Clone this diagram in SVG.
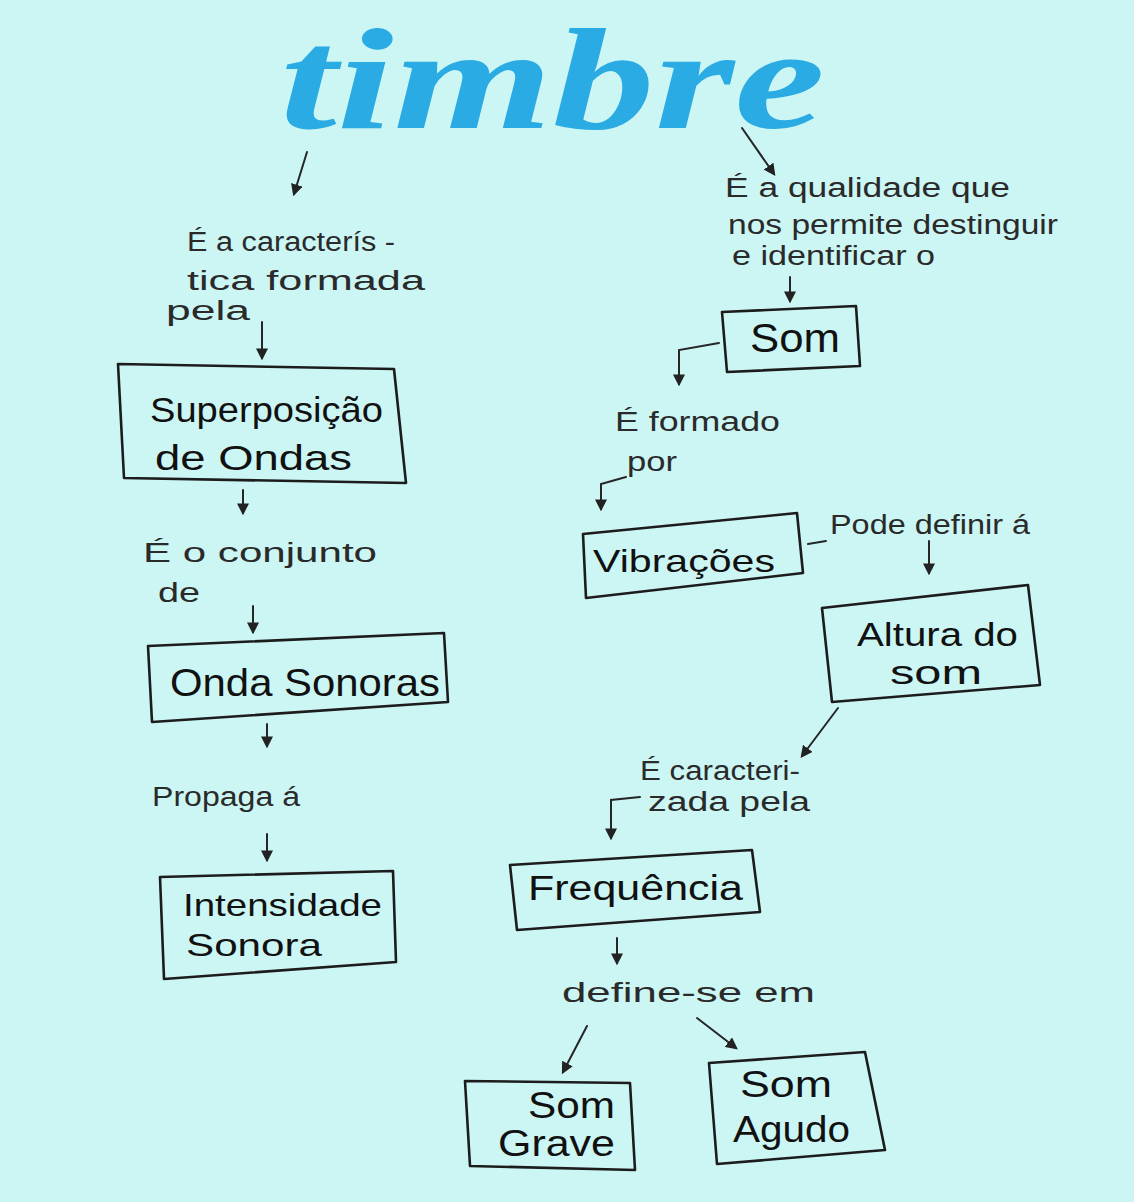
<svg xmlns="http://www.w3.org/2000/svg" width="1134" height="1202" viewBox="0 0 1134 1202">
<defs>
<marker id="ah" viewBox="0 0 10 10" refX="8" refY="5" markerWidth="6" markerHeight="6" orient="auto" markerUnits="strokeWidth">
<path d="M0,0 L10,5 L0,10 Z" fill="#222"/>
</marker>
<style>
.bg{fill:#ccf6f4}
.box{fill:none;stroke:#1c1c1c;stroke-width:2.6;stroke-linejoin:round}
.c{fill:none;stroke:#262626;stroke-width:2;stroke-linecap:round;marker-end:url(#ah)}
.cl{fill:none;stroke:#262626;stroke-width:2;stroke-linecap:round}
.lbl{font-family:"Liberation Sans",Arial,sans-serif;font-size:27px;fill:#2a2a2a}
.nt{font-family:"Liberation Sans",Arial,sans-serif;fill:#111}
.title{font-family:"Liberation Serif","DejaVu Serif",serif;font-style:italic;font-weight:bold;font-size:145px;fill:#2aabe4}
</style>
</defs>
<rect class="bg" x="0" y="0" width="1134" height="1202"/>
<g id="title"><text class="title" x="280" y="128" textLength="545" lengthAdjust="spacingAndGlyphs">timbre</text></g>

<g id="connectors">
<path class="c" d="M307,152 L294,194"/>
<path class="c" d="M742,128 L774,174"/>
<path class="c" d="M262,322 L262,358"/>
<path class="c" d="M243,490 L243,513"/>
<path class="c" d="M253,606 L253,632"/>
<path class="c" d="M267,724 L267,746"/>
<path class="c" d="M267,834 L267,860"/>
<path class="c" d="M790,277 L790,301"/>
<path class="c" d="M719,343 L679,350 L679,384"/>
<path class="c" d="M626,477 L601,484 L601,509"/>
<path class="cl" d="M808,544 L826,541"/>
<path class="c" d="M929,541 L929,573"/>
<path class="c" d="M838,708 L802,756"/>
<path class="c" d="M640,797 L611,800 L611,838"/>
<path class="c" d="M617,938 L617,963"/>
<path class="c" d="M587,1026 L563,1072"/>
<path class="c" d="M697,1018 L736,1048"/>
</g>

<g id="lbl-left1"><text class="lbl" lengthAdjust="spacingAndGlyphs"><tspan x="187" y="251" textLength="208" lengthAdjust="spacingAndGlyphs">É a caracterís -</tspan><tspan x="187" y="290" textLength="238" lengthAdjust="spacingAndGlyphs">tica formada</tspan><tspan x="166" y="320" textLength="84" lengthAdjust="spacingAndGlyphs">pela</tspan></text></g>
<g id="lbl-right1"><text class="lbl" font-size="27"><tspan x="725" y="197" textLength="285" lengthAdjust="spacingAndGlyphs">É a qualidade que</tspan><tspan x="728" y="234" textLength="330" lengthAdjust="spacingAndGlyphs">nos permite destinguir</tspan><tspan x="732" y="265" textLength="203" lengthAdjust="spacingAndGlyphs">e identificar o</tspan></text></g>

<g id="n-superposicao">
<polygon class="box" points="118,364 394,369 406,483 124,478"/>
<text class="nt" font-size="35"><tspan x="150" y="422" textLength="233" lengthAdjust="spacingAndGlyphs">Superposição</tspan><tspan x="155" y="470" textLength="197" lengthAdjust="spacingAndGlyphs">de Ondas</tspan></text>
</g>
<g id="lbl-conjunto"><text class="lbl" font-size="29"><tspan x="143" y="562" textLength="234" lengthAdjust="spacingAndGlyphs">É o conjunto</tspan><tspan x="158" y="602" textLength="42" lengthAdjust="spacingAndGlyphs">de</tspan></text></g>
<g id="n-ondasonoras">
<polygon class="box" points="148,646 444,633 448,702 152,722"/>
<text class="nt" font-size="39" x="170" y="696" textLength="270" lengthAdjust="spacingAndGlyphs">Onda Sonoras</text>
</g>
<g id="lbl-propaga"><text class="lbl" font-size="28" x="152" y="806" textLength="148" lengthAdjust="spacingAndGlyphs">Propaga á</text></g>
<g id="n-intensidade">
<polygon class="box" points="160,877 393,871 396,962 164,979"/>
<text class="nt" font-size="32"><tspan x="183" y="916" textLength="199" lengthAdjust="spacingAndGlyphs">Intensidade</tspan><tspan x="186" y="956" textLength="136" lengthAdjust="spacingAndGlyphs">Sonora</tspan></text>
</g>

<g id="n-som">
<polygon class="box" points="722,312 856,306 860,366 727,372"/>
<text class="nt" font-size="40" x="750" y="352" textLength="90" lengthAdjust="spacingAndGlyphs">Som</text>
</g>
<g id="lbl-formado"><text class="lbl" font-size="28"><tspan x="615" y="431" textLength="165" lengthAdjust="spacingAndGlyphs">É formado</tspan><tspan x="627" y="471" textLength="50" lengthAdjust="spacingAndGlyphs">por</tspan></text></g>
<g id="n-vibracoes">
<polygon class="box" points="583,534 797,513 803,573 586,598"/>
<text class="nt" font-size="32" x="593" y="572" textLength="182" lengthAdjust="spacingAndGlyphs">Vibrações</text>
</g>
<g id="lbl-pode"><text class="lbl" font-size="25" x="830" y="534" textLength="200" lengthAdjust="spacingAndGlyphs">Pode definir á</text></g>
<g id="n-altura">
<polygon class="box" points="822,608 1028,585 1040,685 832,702"/>
<text class="nt" font-size="34"><tspan x="857" y="646" textLength="161" lengthAdjust="spacingAndGlyphs">Altura do</tspan><tspan x="890" y="684" textLength="92" lengthAdjust="spacingAndGlyphs">som</tspan></text>
</g>
<g id="lbl-caracterizada"><text class="lbl" font-size="27"><tspan x="640" y="780" textLength="160" lengthAdjust="spacingAndGlyphs">É caracteri-</tspan><tspan x="648" y="811" textLength="162" lengthAdjust="spacingAndGlyphs">zada pela</tspan></text></g>
<g id="n-frequencia">
<polygon class="box" points="510,865 752,850 760,912 517,930"/>
<text class="nt" font-size="35" x="528" y="900" textLength="215" lengthAdjust="spacingAndGlyphs">Frequência</text>
</g>
<g id="lbl-define"><text class="lbl" font-size="30" x="562" y="1002" textLength="253" lengthAdjust="spacingAndGlyphs">define-se em</text></g>
<g id="n-somgrave">
<polygon class="box" points="465,1081 630,1083 635,1170 470,1166"/>
<text class="nt" font-size="36"><tspan x="528" y="1118" textLength="87" lengthAdjust="spacingAndGlyphs">Som</tspan><tspan x="498" y="1156" textLength="117" lengthAdjust="spacingAndGlyphs">Grave</tspan></text>
</g>
<g id="n-somagudo">
<polygon class="box" points="709,1063 865,1052 885,1150 717,1164"/>
<text class="nt" font-size="36"><tspan x="740" y="1097" textLength="92" lengthAdjust="spacingAndGlyphs">Som</tspan><tspan x="733" y="1142" textLength="117" lengthAdjust="spacingAndGlyphs">Agudo</tspan></text>
</g>
</svg>
